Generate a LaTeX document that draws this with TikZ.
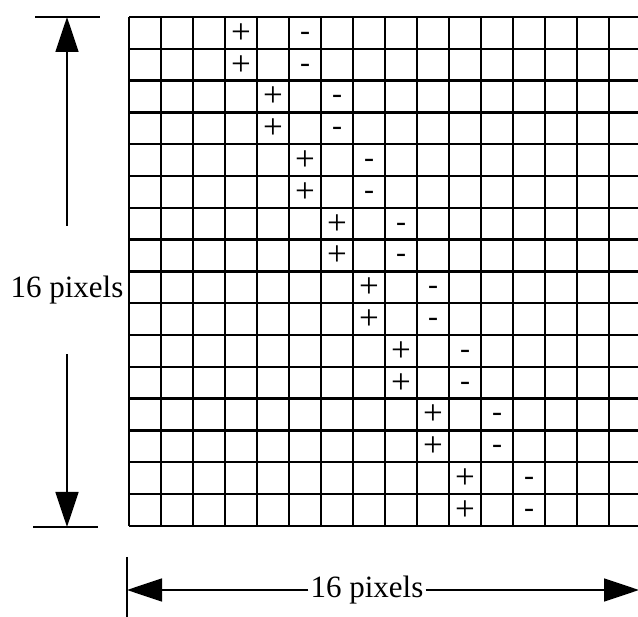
\documentclass[tikz,border=0pt]{standalone}
\usepackage{fontspec}
\setmainfont{Liberation Serif}
\usetikzlibrary{arrows.meta,positioning}

\begin{document}
\begin{tikzpicture}[x=1pt,y=-1pt,
	gridline/.style={line width=2.4pt},
	dimline/.style={line width=1.8pt, -{Triangle[length=35pt,width=23pt]}},
	plus/.style={font=\fontsize{35}{36}\selectfont, inner sep=0pt, anchor=center},
	minus/.style={font=\fontsize{30}{36}\selectfont, inner sep=0pt, anchor=base},
	dimtext/.style={font=\fontsize{31}{36}\selectfont, inner sep=2pt}]
	\useasboundingbox (0,0) rectangle (638,617);
	\clip (0,0) rectangle (638,617);

	% 16 x 16 grid
	\foreach \i in {0,...,16} {
		\draw[gridline] (129+32*\i,17) -- (129+32*\i,526);
		\draw[gridline] (129,17+31.8*\i) -- (641,17+31.8*\i);
	}

	% + and - shift one column every two rows
	\foreach \k in {0,...,7} {
		\foreach \r in {0,1} {
			\pgfmathtruncatemacro{\row}{2*\k+\r}
			\node[plus] (p\row) at (129+32*\k+32*3.5, 17+31.8*\row+16.5) {+};
			\node[minus] (m\row) at (129+32*\k+32*5.5, 17+31.8*\row+23.4) {-};
		}
	}

	% height
	\coordinate (vtop) at (67,17);
	\coordinate (vbot) at (67,527);
	\node[dimtext, minimum height=128pt] (vlabel) at (67,290) {16 pixels};
	\draw[gridline] ([xshift=-32pt]vtop) -- ([xshift=33pt]vtop);
	\draw[gridline] ([xshift=-34pt]vbot) -- ([xshift=31pt]vbot);
	\draw[dimline] (vlabel) -- (vtop);
	\draw[dimline] (vlabel) -- (vbot);

	% width
	\coordinate (hleft) at (127,590);
	\coordinate (hright) at (639,590);
	\node[dimtext] (hlabel) at (367,590) {16 pixels};
	\draw[gridline] ([yshift=33pt]hleft) -- ([yshift=-30pt]hleft);
	\draw[dimline] (hlabel) -- (hleft);
	\draw[dimline] (hlabel) -- (hright);
\end{tikzpicture}
\end{document}
